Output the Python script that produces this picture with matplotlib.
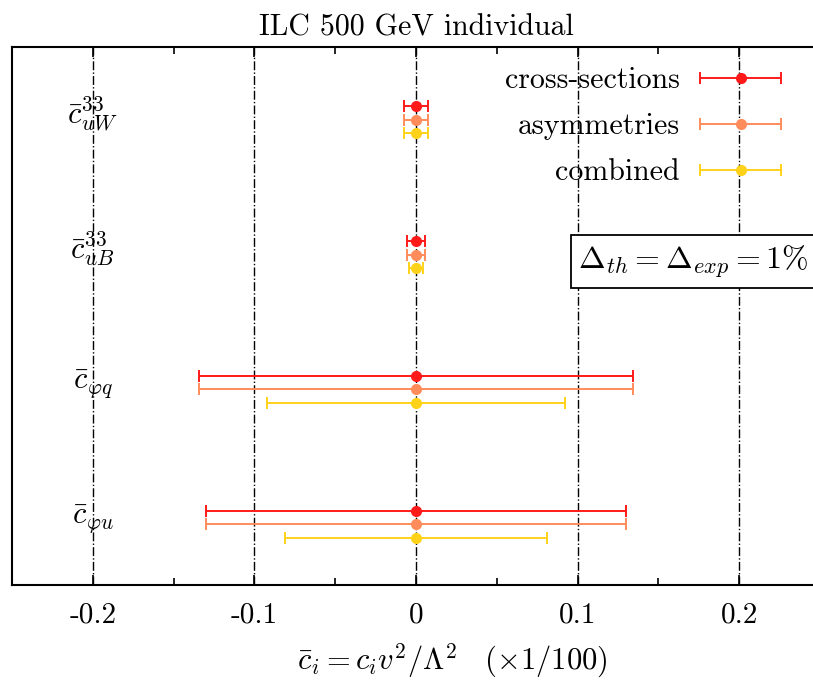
import numpy as np
import matplotlib
matplotlib.use('Agg')
import matplotlib.pyplot as plt
from matplotlib.patches import Rectangle
from matplotlib.legend_handler import HandlerErrorbar
from matplotlib.container import ErrorbarContainer

plt.rcParams['font.family'] = 'cmr10'
plt.rcParams['mathtext.fontset'] = 'cm'
plt.rcParams['axes.formatter.use_mathtext'] = True

# coefficients, top to bottom
coef_labels = [r'$\bar{c}^{33}_{uW}$', r'$\bar{c}^{33}_{uB}$',
               r'$\bar{c}_{\varphi q}$', r'$\bar{c}_{\varphi u}$']
central = [0.0, 0.0, 0.0, 0.0]
err_xsec = [0.0075, 0.0055, 0.134, 0.130]
err_asym = [0.0075, 0.0055, 0.134, 0.130]
err_comb = [0.0075, 0.0045, 0.092, 0.081]

series_names = ['cross-sections', 'asymmetries', 'combined']
series_colors = ['#ff1a1a', '#ff8c5a', '#ffd21a']
xticks = [-0.2, -0.1, 0.0, 0.1, 0.2]
xticklabels = ['-0.2', '-0.1', '0', '0.1', '0.2']

fig = plt.figure(figsize=(8.13, 6.81), dpi=100)
W, H = 813., 681.
ax = fig.add_axes([12 / W, 1 - 585 / H, 808 / W, 538 / H])

ypos = np.array([4, 3, 2, 1], dtype=float)
offsets = [0.1, 0.0, -0.1]
errs = [err_xsec, err_asym, err_comb]

for name, col, off, e in zip(series_names, series_colors, offsets, errs):
    ax.errorbar(central, ypos + off, xerr=e, fmt='o', color=col, ms=7,
                elinewidth=1.4, capsize=4, capthick=1.4, label=name, zorder=3)

for xt in xticks:
    ax.axvline(xt, color='black', ls='-.', lw=1.0, zorder=1)

for lab, y in zip(coef_labels, ypos):
    ax.text(-0.2, y + 0.04, lab, fontsize=22, ha='center', va='center', zorder=2)

ax.set_xlim(-0.25, 0.25)
ax.set_ylim(0.55, 4.54)
ax.set_yticks([])
ax.set_xticks(xticks)
ax.set_xticklabels(xticklabels, fontsize=21)
ax.set_xticks([-0.15, -0.05, 0.05, 0.15], minor=True)
ax.tick_params(axis='x', which='both', direction='in', top=True, length=7, width=1.2, pad=12)
ax.tick_params(axis='x', which='minor', length=5)
for s in ax.spines.values():
    s.set_linewidth(1.5)

ax.set_title('ILC 500 GeV individual', fontsize=21.5, pad=8)
ax.set_xlabel(r'$\bar{c}_i = c_i v^2/\Lambda^2 \quad (\times 1/100)$', fontsize=22,
              labelpad=10, x=0.545)

leg = ax.legend(loc='upper right', bbox_to_anchor=(0.985, 1.013), frameon=False,
                markerfirst=False, fontsize=21.5, handlelength=2.7, labelspacing=0.62,
                handletextpad=0.7,
                handler_map={ErrorbarContainer: HandlerErrorbar(xerr_size=1.35)})

# framed note, box runs off the right edge like the original
trans = ax.get_xaxis_transform()
ax.add_patch(Rectangle((0.096, 0.552), 0.2, 0.0985, transform=trans, fc='white',
                       ec='black', lw=1.3, zorder=4, clip_on=False))
ax.text(0.1005, 0.601, r'$\Delta_{th} = \Delta_{exp} = 1\%$', transform=trans,
        fontsize=23, ha='left', va='center', zorder=5)

fig.savefig('out.png', dpi=100)
